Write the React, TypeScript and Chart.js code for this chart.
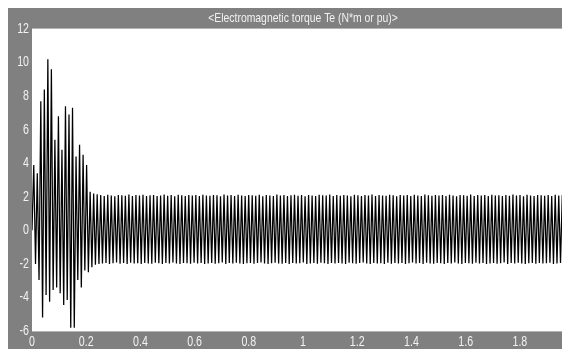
import { useEffect, useRef } from "react";
import { Chart, registerables } from "chart.js";

Chart.register(...registerables);

const TITLE = "<Electromagnetic torque Te (N*m or pu)>";

const X_TICKS = [0, 0.2, 0.4, 0.6, 0.8, 1, 1.2, 1.4, 1.6, 1.8];
const Y_TICKS = [-6, -4, -2, 0, 2, 4, 6, 8, 10, 12];

// time between successive torque extremes (s)
const SAMPLE_STEP = 0.0065;

// start-up transient: alternating peaks and troughs of Te
const transientTorque = [
  0, 3.9, -2.0, 3.4, -2.96, 7.7, -5.2, 8.4, -3.85, 10.2,
  -4.25, 9.6, -3.55, 5.4, -3.4, 6.8, -3.75, 4.8, -4.45, 7.4,
  -4.15, 6.9, -5.8, 7.3, -5.8, 4.4, -2.96, 5.1, -3.4, 4.5,
  -2.4, 3.9, -2.5, 2.3, -2.2, 2.2, -2.05, 2.15, -2.0,
];

// steady-state ripple: positive extremes
const steadyPeaks = [
  2.10, 2.05, 2.12, 2.08, 2.03, 2.11, 2.09, 2.06, 2.13, 2.04, 2.10, 2.07, 2.12, 2.05,
  2.09, 2.11, 2.04, 2.08, 2.13, 2.06, 2.10, 2.03, 2.12, 2.09, 2.05, 2.11, 2.07, 2.10,
  2.04, 2.12, 2.08, 2.06, 2.11, 2.09, 2.03, 2.13, 2.07, 2.10, 2.05, 2.12, 2.08, 2.04,
  2.11, 2.09, 2.06, 2.12, 2.03, 2.10, 2.08, 2.05, 2.13, 2.07, 2.11, 2.04, 2.09, 2.12,
  2.06, 2.10, 2.03, 2.11, 2.08, 2.05, 2.12, 2.09, 2.07, 2.13, 2.04, 2.10, 2.06, 2.11,
  2.08, 2.03, 2.12, 2.09, 2.05, 2.10, 2.07, 2.13, 2.04, 2.11, 2.08, 2.06, 2.12, 2.09,
  2.03, 2.10, 2.07, 2.11, 2.05, 2.12, 2.08, 2.04, 2.13, 2.09, 2.06, 2.10, 2.07, 2.11,
  2.05, 2.12, 2.08, 2.03, 2.10, 2.09, 2.06, 2.13, 2.04, 2.11, 2.07, 2.10, 2.05, 2.12,
  2.08, 2.09, 2.04, 2.11, 2.06, 2.13, 2.07, 2.10, 2.03, 2.12, 2.08, 2.05, 2.11, 2.09,
  2.06, 2.10, 2.04, 2.12, 2.07, 2.11, 2.08, 2.05,
];

// steady-state ripple: negative extremes
const steadyTroughs = [
  -1.97, -1.94, -2.00, -1.96, -1.92, -1.99, -1.95, -2.01, -1.93, -1.98, -1.96, -2.00, -1.94, -1.97,
  -1.99, -1.93, -1.96, -2.01, -1.95, -1.98, -1.92, -1.97, -2.00, -1.94, -1.96, -1.99, -1.93, -1.98,
  -1.95, -2.01, -1.97, -1.94, -1.99, -1.96, -1.92, -2.00, -1.95, -1.98, -1.93, -1.97, -2.01, -1.96,
  -1.94, -1.99, -1.95, -1.92, -1.98, -2.00, -1.96, -1.93, -1.97, -1.99, -1.94, -2.01, -1.95, -1.98,
  -1.96, -1.92, -2.00, -1.97, -1.94, -1.99, -1.93, -1.96, -2.01, -1.95, -1.98, -1.94, -1.97, -2.00,
  -1.93, -1.96, -1.99, -1.95, -1.92, -1.98, -2.01, -1.94, -1.97, -1.96, -2.00, -1.93, -1.99, -1.95,
  -1.97, -1.94, -2.01, -1.96, -1.92, -1.98, -1.95, -2.00, -1.93, -1.97, -1.99, -1.94, -1.96, -2.01,
  -1.95, -1.98, -1.92, -1.97, -2.00, -1.94, -1.96, -1.99, -1.93, -1.98, -1.95, -2.01, -1.97, -1.94,
  -1.99, -1.96, -1.92, -2.00, -1.95, -1.98, -1.93, -1.97, -2.01, -1.96, -1.94, -1.99, -1.95, -1.98,
  -1.96, -1.93, -2.00, -1.97, -1.94, -1.99, -1.95, -1.98,
];

const FRAME_GREY = "#808080";
const LABEL_COLOR = "#f2f2f2";
const FONT_FAMILY = "'Liberation Sans', Arial, sans-serif";

// draws text squeezed horizontally, like the narrow scope font
function narrowText(
  ctx: CanvasRenderingContext2D,
  text: string,
  x: number,
  y: number,
  squeeze: number,
) {
  ctx.save();
  ctx.translate(x, y);
  ctx.scale(squeeze, 1);
  ctx.fillText(text, 0, 0);
  ctx.restore();
}

export default function App() {
  const canvasRef = useRef<HTMLCanvasElement>(null);

  useEffect(() => {
    const canvas = canvasRef.current;
    if (!canvas) return;

    const values: number[] = [...transientTorque];
    steadyPeaks.forEach((p, k) => {
      values.push(p, steadyTroughs[k]);
    });
    const points = values.map((y, i) => ({ x: i * SAMPLE_STEP, y }));

    // scope-style frame: grey surround, white plot, title bar and tick labels
    const scopeFrame = {
      id: "scopeFrame",
      beforeDraw(chart: any) {
        const { ctx, chartArea: a, width, height } = chart;
        ctx.save();
        ctx.fillStyle = FRAME_GREY;
        ctx.fillRect(0, 0, width, height);
        ctx.fillStyle = "#ffffff";
        ctx.fillRect(a.left, a.top, a.right - a.left, a.bottom - a.top);
        ctx.restore();
      },
      afterDraw(chart: any) {
        const { ctx, chartArea: a } = chart;
        const xScale = chart.scales.x;
        const yScale = chart.scales.y;
        ctx.save();
        ctx.strokeStyle = "#b4b4b4";
        ctx.lineWidth = 1;
        ctx.beginPath();
        ctx.moveTo(a.left, a.top - 0.5);
        ctx.lineTo(a.right, a.top - 0.5);
        ctx.moveTo(a.left, a.bottom + 0.5);
        ctx.lineTo(a.right, a.bottom + 0.5);
        ctx.stroke();

        ctx.fillStyle = LABEL_COLOR;
        ctx.textBaseline = "middle";

        ctx.font = `13px ${FONT_FAMILY}`;
        ctx.textAlign = "center";
        const center = (xScale.getPixelForValue(0) + xScale.getPixelForValue(2)) / 2;
        narrowText(ctx, TITLE, center, a.top / 2, 0.8);

        ctx.font = `14px ${FONT_FAMILY}`;
        X_TICKS.forEach((v) => {
          narrowText(ctx, String(v), xScale.getPixelForValue(v), a.bottom + 11, 0.76);
        });
        ctx.textAlign = "right";
        Y_TICKS.forEach((v) => {
          narrowText(ctx, String(v), a.left - 3, yScale.getPixelForValue(v), 0.76);
        });
        ctx.restore();
      },
    };

    const chart = new Chart(canvas, {
      type: "line",
      data: {
        datasets: [
          {
            data: points,
            borderColor: "#000000",
            borderWidth: 1.25,
            pointRadius: 0,
            tension: 0,
            fill: false,
          },
        ],
      },
      options: {
        responsive: false,
        animation: false,
        layout: { padding: { top: 21, left: 0, right: 0, bottom: 0 } },
        plugins: {
          legend: { display: false },
          tooltip: { enabled: false },
          title: { display: false },
        },
        scales: {
          x: {
            type: "linear",
            min: 0,
            max: 1.985,
            grid: { display: false, drawTicks: false },
            border: { display: false },
            afterBuildTicks: (s: any) => {
              s.ticks = X_TICKS.map((v) => ({ value: v }));
            },
            afterFit: (s: any) => {
              s.height = 18;
            },
            ticks: { display: false },
          },
          y: {
            type: "linear",
            min: -6,
            max: 12,
            grid: { display: false, drawTicks: false },
            border: { display: false },
            afterBuildTicks: (s: any) => {
              s.ticks = Y_TICKS.map((v) => ({ value: v }));
            },
            afterFit: (s: any) => {
              s.width = 24;
            },
            ticks: { display: false },
          },
        },
      },
      plugins: [scopeFrame],
    });

    return () => chart.destroy();
  }, []);

  return <canvas ref={canvasRef} width={562} height={341} style={{ display: "block" }} />;
}
